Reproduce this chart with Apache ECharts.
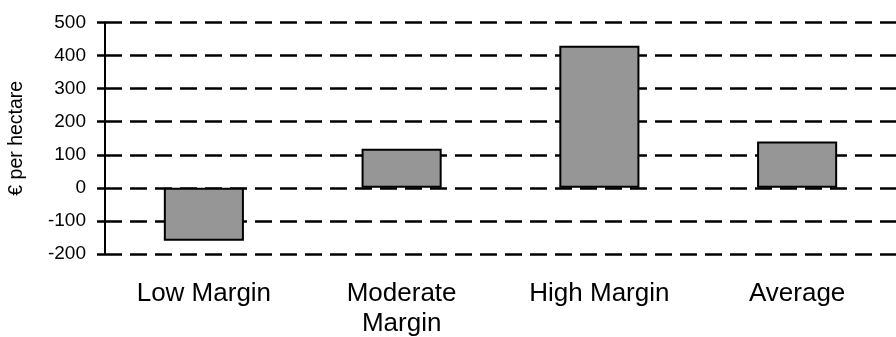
<!DOCTYPE html>
<html>
<head>
<meta charset="utf-8">
<script src="https://cdn.jsdelivr.net/npm/echarts@6/dist/echarts.min.js"></script>
<style>
  html, body { margin: 0; padding: 0; background: #fff; }
  #canvas { width: 896px; height: 337px; }
</style>
</head>
<body>
<div id="canvas"></div>
<script>
var categories = ['Low Margin', 'Moderate\nMargin', 'High Margin', 'Average'];
var values = [-160, 118, 430, 140];
var yTicks = { min: -200, max: 500, step: 100 };

var myChart = echarts.init(document.getElementById('canvas'));
var font = 'Liberation Sans, Arial, sans-serif';

var option = {
    animation: false,
    grid: { left: 105, right: 0, top: 22.5, bottom: 83, outerBoundsMode: 'none', containLabel: false },
    xAxis: {
        type: 'category',
        data: categories,
        axisLine: { show: false },
        axisTick: { show: false },
        axisLabel: {
            color: '#000',
            fontFamily: font,
            fontSize: 26,
            margin: 25,
            lineHeight: 30
        }
    },
    yAxis: {
        type: 'value',
        min: yTicks.min,
        max: yTicks.max,
        interval: yTicks.step,
        name: '€ per hectare',
        nameLocation: 'middle',
        nameGap: 78,
        nameTextStyle: { color: '#000', fontFamily: font, fontSize: 19.5 },
        axisLine: { show: true, onZero: false, lineStyle: { color: '#000', width: 2 } },
        axisTick: { show: true, length: 8, lineStyle: { color: '#000', width: 2.5 } },
        axisLabel: { color: '#000', fontFamily: font, fontSize: 19, margin: 19 },
        splitLine: {
            show: true,
            lineStyle: { color: '#000', width: 2.5, type: [17, 8] }
        }
    },
    series: [{
        type: 'bar',
        data: values,
        barWidth: '40.5%',
        itemStyle: { color: '#969696', borderColor: '#000', borderWidth: 2 }
    }]
};
myChart.setOption(option);
</script>
</body>
</html>
